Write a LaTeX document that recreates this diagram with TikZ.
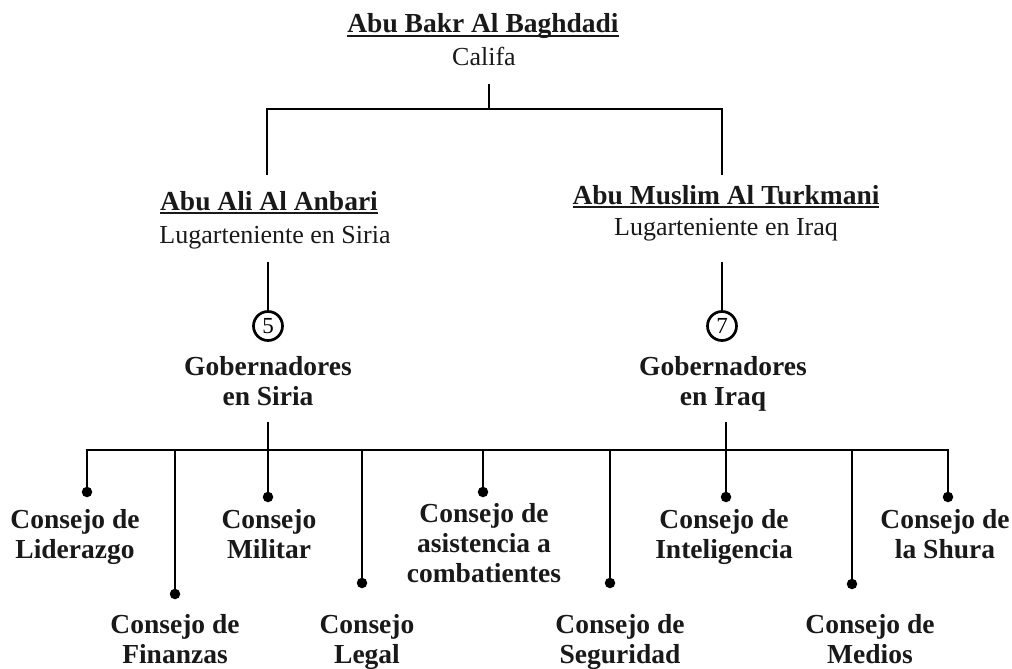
\documentclass[tikz,border=0pt]{standalone}
\usepackage{fontspec}
\setmainfont{Liberation Serif}
\newcommand\myul[1]{\setbox0\hbox{#1}\rlap{\rule[-4pt]{\wd0}{1.8pt}}\box0}
\begin{document}
\begin{tikzpicture}[x=1pt,y=-1pt,
  wire/.style={line width=2.7pt,black},
  pname/.style={font=\fontsize{27.5}{33}\selectfont\bfseries,inner sep=0,text=black!90},
  prole/.style={font=\fontsize{26}{33}\selectfont,inner sep=0,text=black!90},
  lbl/.style={font=\fontsize{27.5}{30}\selectfont\bfseries,align=center,inner sep=0,text=black!90},
  dotn/.style={circle,fill=black,inner sep=0,minimum size=10.5pt},
  circ/.style={circle,draw=black,line width=2.7pt,fill=white,inner sep=0,minimum size=29pt,font=\fontsize{23}{23}\selectfont}]
\useasboundingbox (0,0) rectangle (1012,669);
% top
\node[pname,anchor=base] (abu) at (483,33) {\myul{Abu Bakr Al Baghdadi}};
\node[prole,anchor=base] (calif) at (484,66) {Califa};
\node[pname,anchor=base] (ali) at (269,210) {\myul{Abu Ali Al Anbari}};
\node[prole,anchor=base] (lts) at (275,243) {Lugarteniente en Siria};
\node[pname,anchor=base] (mus) at (726,204) {\myul{Abu Muslim Al Turkmani}};
\node[prole,anchor=base] (lti) at (726,235) {Lugarteniente en Iraq};
% circles
\node[circ] (n5) at (268,326) {5};
\node[circ] (n7) at (722,326) {7};
\node[lbl,anchor=base] (gs) at (268,405) {Gobernadores\\en Siria};
\node[lbl,anchor=base] (gi) at (723,405) {Gobernadores\\en Iraq};
% connectors top
\coordinate (c0) at (489,84);
\coordinate (tj) at (489,109);
\coordinate (l1) at (267,175);
\coordinate (r1) at (722,175);
\draw[wire] (c0) -- (tj);
\draw[wire] (l1) -- (l1 |- tj) -- (r1 |- tj) -- (r1);
\coordinate (l2) at (268,262);
\coordinate (r2) at (722,262);
\draw[wire] (l2) -- (n5);
\draw[wire] (r2) -- (n7);
% councils dots
\node[dotn] (d1) at (87,492) {};
\node[dotn] (d2) at (175,594) {};
\node[dotn] (d3) at (268,497) {};
\node[dotn] (d4) at (362,583) {};
\node[dotn] (d5) at (483,492) {};
\node[dotn] (d6) at (610,583) {};
\node[dotn] (d7) at (726,497) {};
\node[dotn] (d8) at (852,584) {};
\node[dotn] (d9) at (948,497) {};
\coordinate (bus) at (0,450);
\coordinate (l3) at (268,422);
\coordinate (r3) at (726,422);
\draw[wire] (l3) -- (l3 |- bus);
\draw[wire] (r3) -- (r3 |- bus);
\draw[wire] (d1) -- (d1 |- bus) -- (d9 |- bus) -- (d9);
\foreach \d in {d2,d3,d4,d5,d6,d7,d8} \draw[wire] (\d) -- (\d |- bus);
% labels
\node[lbl,anchor=base] (t1) at (75,558) {Consejo de\\Liderazgo};
\node[lbl,anchor=base] (t2) at (175,663) {Consejo de\\Finanzas};
\node[lbl,anchor=base] (t3) at (269,558) {Consejo\\Militar};
\node[lbl,anchor=base] (t4) at (367,663) {Consejo\\Legal};
\node[lbl,anchor=base] (t5) at (484,582) {Consejo de\\asistencia a\\combatientes};
\node[lbl,anchor=base] (t6) at (620,663) {Consejo de\\Seguridad};
\node[lbl,anchor=base] (t7) at (724,558) {Consejo de\\Inteligencia};
\node[lbl,anchor=base] (t8) at (870,663) {Consejo de\\Medios};
\node[lbl,anchor=base] (t9) at (945,558) {Consejo de\\la Shura};
\end{tikzpicture}
\end{document}
